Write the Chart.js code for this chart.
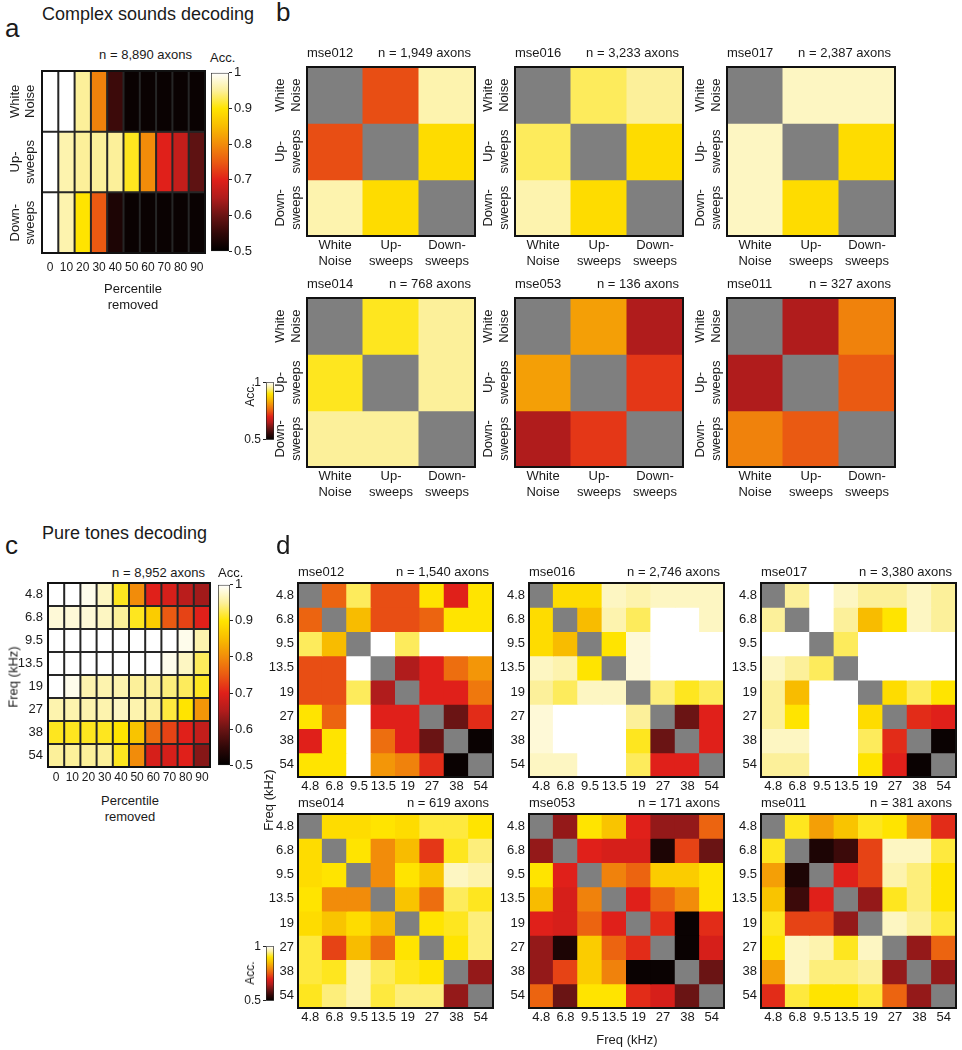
<!DOCTYPE html>
<html>
<head>
<meta charset="utf-8">
<script src="https://cdn.jsdelivr.net/npm/chart.js@4.4.1/dist/chart.umd.min.js"></script>
<style>
  body { margin: 0; background: #fff; }
  #fig { position: relative; width: 962px; height: 1050px; overflow: hidden; font-family: "Liberation Sans", Arial, sans-serif; color: #1a1a1a; }
  #fig canvas { position: absolute; }
  .lbl { position: absolute; white-space: nowrap; line-height: 1; }
</style>
</head>
<body>
<div id="fig"></div>
<script>
// ---- data ----
const soundLabels = [['White', 'Noise'], ['Up-', 'sweeps'], ['Down-', 'sweeps']];
const percentiles = ['0', '10', '20', '30', '40', '50', '60', '70', '80', '90'];
const freqLabels = ['4.8', '6.8', '9.5', '13.5', '19', '27', '38', '54'];
const accTicks = [0.5, 0.6, 0.7, 0.8, 0.9, 1];
const accEnds = [0.5, 1];

// a: rows = sound, cols = percentile removed
const accComplex = [
  [1.0, 1.0, 0.95, 0.79, 0.56, 0.51, 0.51, 0.51, 0.51, 0.51],
  [1.0, 0.96, 0.95, 0.95, 0.95, 0.91, 0.80, 0.70, 0.67, 0.59],
  [1.0, 0.96, 0.90, 0.75, 0.53, 0.51, 0.51, 0.51, 0.51, 0.51]
];

// b: pairwise accuracy per mouse (null = diagonal)
const bMse012 = [[null, 0.74, 0.96], [0.74, null, 0.89], [0.96, 0.89, null]];
const bMse016 = [[null, 0.93, 0.95], [0.93, null, 0.89], [0.96, 0.89, null]];
const bMse017 = [[null, 0.97, 0.97], [0.97, null, 0.89], [0.97, 0.89, null]];
const bMse014 = [[null, 0.91, 0.95], [0.91, null, 0.95], [0.95, 0.95, null]];
const bMse053 = [[null, 0.82, 0.65], [0.82, null, 0.72], [0.65, 0.72, null]];
const bMse011 = [[null, 0.65, 0.79], [0.65, null, 0.75], [0.79, 0.75, null]];
const bCounts = ['n = 1,949 axons', 'n = 3,233 axons', 'n = 2,387 axons', 'n = 768 axons', 'n = 136 axons', 'n = 327 axons'];

// c: rows = frequency, cols = percentile removed
const accTones = [
  [1.0, 1.0, 0.99, 0.97, 0.91, 0.80, 0.70, 0.69, 0.66, 0.64],
  [0.98, 0.98, 0.98, 0.97, 0.95, 0.91, 0.87, 0.75, 0.73, 0.70],
  [1.0, 1.0, 1.0, 1.0, 1.0, 1.0, 1.0, 1.0, 0.99, 0.96],
  [1.0, 1.0, 1.0, 1.0, 1.0, 1.0, 1.0, 0.99, 0.97, 0.93],
  [1.0, 0.99, 0.96, 0.96, 0.96, 0.95, 0.95, 0.94, 0.93, 0.91],
  [0.96, 0.96, 0.96, 0.96, 0.97, 0.96, 0.95, 0.92, 0.90, 0.81],
  [0.91, 0.91, 0.91, 0.91, 0.90, 0.86, 0.77, 0.73, 0.70, 0.67],
  [0.95, 0.95, 0.95, 0.95, 0.91, 0.80, 0.69, 0.69, 0.70, 0.62]
];

// d: pairwise tone accuracy per mouse
const dMse012 = [
  [null, 0.76, 0.93, 0.74, 0.74, 0.90, 0.70, 0.90],
  [0.76, null, 0.85, 0.74, 0.74, 0.76, 0.90, 0.90],
  [0.93, 0.85, null, 1.0, 0.93, 1.0, 1.0, 1.0],
  [0.74, 0.74, 1.0, null, 0.65, 0.70, 0.77, 0.81],
  [0.74, 0.74, 0.93, 0.65, null, 0.70, 0.70, 0.78],
  [0.90, 0.76, 1.0, 0.70, 0.70, null, 0.60, 0.71],
  [0.70, 0.90, 1.0, 0.77, 0.70, 0.60, null, 0.51],
  [0.90, 0.90, 1.0, 0.81, 0.79, 0.71, 0.51, null]
];
const dMse016 = [
  [null, 0.89, 0.89, 0.97, 0.96, 0.97, 0.97, 0.97],
  [0.89, null, 0.85, 0.96, 0.93, 1.0, 1.0, 0.97],
  [0.89, 0.85, null, 0.90, 0.98, 1.0, 1.0, 1.0],
  [0.97, 0.96, 0.90, null, 0.98, 1.0, 1.0, 1.0],
  [0.95, 0.93, 0.97, 0.97, null, 0.94, 0.91, 0.93],
  [0.98, 1.0, 1.0, 1.0, 0.95, null, 0.60, 0.70],
  [0.98, 1.0, 1.0, 1.0, 0.91, 0.60, null, 0.70],
  [0.97, 0.97, 1.0, 1.0, 0.93, 0.70, 0.70, null]
];
const dMse017 = [
  [null, 0.95, 1.0, 0.97, 0.95, 0.95, 0.97, 0.95],
  [0.95, null, 1.0, 0.95, 0.85, 0.90, 0.97, 0.95],
  [1.0, 1.0, null, 0.93, 1.0, 1.0, 1.0, 1.0],
  [0.97, 0.95, 0.93, null, 1.0, 1.0, 1.0, 1.0],
  [0.95, 0.85, 1.0, 1.0, null, 0.89, 0.93, 0.90],
  [0.95, 0.90, 1.0, 1.0, 0.89, null, 0.71, 0.70],
  [0.97, 0.97, 1.0, 1.0, 0.93, 0.71, null, 0.51],
  [0.95, 0.95, 1.0, 1.0, 0.90, 0.70, 0.51, null]
];
const dMse014 = [
  [null, 0.89, 0.89, 0.90, 0.89, 0.92, 0.92, 0.90],
  [0.89, null, 0.90, 0.80, 0.85, 0.72, 0.91, 0.94],
  [0.89, 0.90, null, 0.80, 0.90, 0.86, 0.97, 0.96],
  [0.90, 0.80, 0.80, null, 0.86, 0.77, 0.93, 0.91],
  [0.89, 0.86, 0.89, 0.85, null, 0.90, 0.91, 0.94],
  [0.92, 0.73, 0.85, 0.77, 0.90, null, 0.90, 0.94],
  [0.92, 0.91, 0.96, 0.93, 0.91, 0.90, null, 0.63],
  [0.91, 0.94, 0.96, 0.92, 0.94, 0.94, 0.63, null]
];
const dMse053 = [
  [null, 0.63, 0.90, 0.86, 0.70, 0.63, 0.63, 0.76],
  [0.63, null, 0.70, 0.69, 0.69, 0.53, 0.73, 0.60],
  [0.90, 0.70, null, 0.79, 0.76, 0.87, 0.87, 0.90],
  [0.85, 0.69, 0.79, null, 0.70, 0.76, 0.80, 0.90],
  [0.70, 0.69, 0.76, 0.70, null, 0.71, 0.51, 0.71],
  [0.63, 0.53, 0.87, 0.76, 0.71, null, 0.51, 0.69],
  [0.63, 0.73, 0.87, 0.79, 0.51, 0.51, null, 0.60],
  [0.76, 0.60, 0.90, 0.90, 0.71, 0.69, 0.60, null]
];
const dMse011 = [
  [null, 0.91, 0.82, 0.86, 0.91, 0.90, 0.82, 0.71],
  [0.91, null, 0.53, 0.56, 0.73, 0.97, 0.97, 0.92],
  [0.82, 0.53, null, 0.70, 0.73, 0.96, 0.94, 0.90],
  [0.86, 0.56, 0.70, null, 0.63, 0.91, 0.94, 0.90],
  [0.91, 0.73, 0.73, 0.63, null, 0.97, 0.95, 0.92],
  [0.90, 0.97, 0.96, 0.91, 0.97, null, 0.63, 0.76],
  [0.82, 0.97, 0.94, 0.94, 0.95, 0.63, null, 0.63],
  [0.71, 0.92, 0.90, 0.90, 0.92, 0.76, 0.63, null]
];
const dCounts = ['n = 1,540 axons', 'n = 2,746 axons', 'n = 3,380 axons', 'n = 619 axons', 'n = 171 axons', 'n = 381 axons'];

// ---- colour map (hot-like, 0.5 .. 1) ----
const cmap = [
  [0.50, [0, 0, 0]], [0.55, [48, 8, 8]], [0.60, [106, 20, 20]], [0.65, [176, 28, 28]],
  [0.70, [224, 32, 26]], [0.75, [234, 90, 18]], [0.80, [242, 140, 10]], [0.85, [248, 188, 0]],
  [0.90, [255, 228, 0]], [0.95, [252, 240, 154]], [1.00, [255, 255, 255]]
];
function accColor(v) {
  if (v === null) return '#7f7f7f';
  v = Math.max(0.5, Math.min(1, v));
  for (let i = 1; i < cmap.length; i++) {
    if (v <= cmap[i][0] + 1e-9) {
      const [v0, c0] = cmap[i - 1], [v1, c1] = cmap[i];
      const t = (v - v0) / (v1 - v0);
      const c = c0.map((x, k) => Math.round(x + (c1[k] - x) * t));
      return 'rgb(' + c.join(',') + ')';
    }
  }
  return '#ffffff';
}

Chart.defaults.font.family = '"Liberation Sans", Arial, sans-serif';
Chart.defaults.color = '#1a1a1a';

const FONT = '"Liberation Sans", Arial, sans-serif';
const fig = document.getElementById('fig');

function makeCanvas(left, top, width, height) {
  const c = document.createElement('canvas');
  c.width = width; c.height = height;
  c.style.left = left + 'px'; c.style.top = top + 'px';
  c.style.width = width + 'px'; c.style.height = height + 'px';
  fig.appendChild(c);
  return c.getContext('2d');
}

function label(text, x, y, size, align, rotate) {
  const d = document.createElement('div');
  d.className = 'lbl';
  d.textContent = text;
  d.style.fontSize = size + 'px';
  d.style.left = x + 'px'; d.style.top = y + 'px';
  const tx = align === 'left' ? '0' : align === 'right' ? '-100%' : '-50%';
  d.style.transform = 'translate(' + tx + ',-50%)' + (rotate ? ' rotate(-90deg)' : '');
  fig.appendChild(d);
}

// plugins: cell grid, frame, headings above matrix, rotated row labels
const cellGridPlugin = {
  id: 'cellGrid',
  afterDatasetsDraw(chart, args, opts) {
    if (!opts || !opts.width) return;
    const xs = chart.scales.x, ys = chart.scales.y, a = chart.chartArea, ctx = chart.ctx;
    ctx.save();
    ctx.strokeStyle = opts.color;
    ctx.lineWidth = opts.width;
    ctx.beginPath();
    for (let i = 1; i < chart.data.labels.length; i++) {
      const px = (xs.getPixelForValue(i - 1) + xs.getPixelForValue(i)) / 2;
      ctx.moveTo(px, a.top); ctx.lineTo(px, a.bottom);
    }
    for (let j = 1; j < chart.data.datasets.length; j++) {
      const py = ys.getPixelForValue(j);
      ctx.moveTo(a.left, py); ctx.lineTo(a.right, py);
    }
    ctx.stroke();
    ctx.restore();
  }
};
const framePlugin = {
  id: 'frame',
  afterDatasetsDraw(chart, args, opts) {
    if (!opts || !opts.width) return;
    const a = chart.chartArea, ctx = chart.ctx;
    ctx.save();
    ctx.strokeStyle = '#111';
    ctx.lineWidth = opts.width;
    ctx.strokeRect(a.left, a.top, a.right - a.left, a.bottom - a.top);
    ctx.restore();
  }
};
const headingPlugin = {
  id: 'heading',
  afterDraw(chart, args, opts) {
    if (!opts || !opts.gap) return;
    const a = chart.chartArea, ctx = chart.ctx;
    ctx.save();
    ctx.font = '13px ' + FONT;
    ctx.fillStyle = '#1a1a1a';
    ctx.textBaseline = 'middle';
    ctx.textAlign = 'left';
    if (opts.left) ctx.fillText(opts.left, a.left, a.top - opts.gap);
    ctx.textAlign = 'right';
    if (opts.right) ctx.fillText(opts.right, a.right - 4, a.top - opts.gap);
    ctx.restore();
  }
};
const rowLabelPlugin = {
  id: 'rowLabels',
  afterDraw(chart, args, opts) {
    if (!opts || !opts.labels) return;
    const ctx = chart.ctx, ys = chart.scales.y, left = chart.chartArea.left;
    ctx.save();
    ctx.font = '13px ' + FONT;
    ctx.fillStyle = '#1a1a1a';
    ctx.textAlign = 'center';
    ctx.textBaseline = 'middle';
    opts.labels.forEach((lines, i) => {
      const py = ys.getPixelForValue(i + 0.5);
      lines.forEach((t, j) => {
        ctx.save();
        ctx.translate(left - opts.offsets[j], py);
        ctx.rotate(-Math.PI / 2);
        ctx.fillText(t, 0, 0);
        ctx.restore();
      });
    });
    ctx.restore();
  }
};
Chart.register(cellGridPlugin, framePlugin, headingPlugin, rowLabelPlugin);

function heatmap(area, rows, cols, values, o) {
  const padTop = 24, padRight = 8;
  const ctx = makeCanvas(area.x - o.yw, area.y - padTop, o.yw + area.w + padRight, padTop + area.h + o.xh);
  new Chart(ctx, {
    type: 'bar',
    data: {
      labels: cols,
      datasets: rows.map((r, i) => ({
        label: Array.isArray(r) ? r.join(' ') : r,
        data: cols.map(() => 1),
        backgroundColor: values[i].map(accColor),
        borderWidth: 0,
        inflateAmount: 0.5,
        barPercentage: 1,
        categoryPercentage: 1
      }))
    },
    options: {
      responsive: false,
      animation: false,
      layout: { padding: { top: padTop, right: padRight, left: 0, bottom: 0 } },
      plugins: {
        legend: { display: false },
        tooltip: { enabled: false },
        cellGrid: o.cellGrid ? { width: 2, color: '#262626' } : {},
        frame: { width: o.frame },
        heading: o.heading || {},
        rowLabels: o.rotated ? { labels: rows, offsets: o.rotated } : {}
      },
      scales: {
        x: {
          stacked: true,
          grid: { display: false, drawTicks: false },
          border: { display: false },
          ticks: { font: { size: o.xFont || 13 }, padding: o.xPad, maxRotation: 0, autoSkip: false, color: '#1a1a1a' },
          afterFit: s => { s.height = o.xh; }
        },
        y: {
          stacked: true,
          reverse: true,
          min: 0,
          max: rows.length,
          grid: { display: false, drawTicks: false },
          border: { display: false },
          afterBuildTicks: s => { s.ticks = rows.map((r, i) => ({ value: i + 0.5 })); },
          ticks: {
            display: !o.rotated,
            font: { size: 13 },
            padding: o.yPad || 4,
            color: '#1a1a1a',
            callback: (v, i) => rows[i]
          },
          afterFit: s => { s.width = o.yw; }
        }
      }
    }
  });
}

function colorbar(area, ticks, side, axisW, fontSize) {
  const pad = 8;
  const left = side === 'left' ? area.x - axisW : area.x;
  const ctx = makeCanvas(left, area.y - pad, axisW + area.w + 2, area.h + 2 * pad);
  new Chart(ctx, {
    type: 'bar',
    data: {
      labels: ['Acc.'],
      datasets: [{
        data: [[0.5, 1]],
        backgroundColor: c => {
          const a = c.chart.chartArea;
          if (!a) return '#888';
          const g = c.chart.ctx.createLinearGradient(0, a.bottom, 0, a.top);
          cmap.forEach(([v, col]) => g.addColorStop((v - 0.5) / 0.5, 'rgb(' + col.join(',') + ')'));
          return g;
        },
        borderColor: '#222',
        borderWidth: 1,
        borderSkipped: false,
        barPercentage: 1,
        categoryPercentage: 1
      }]
    },
    options: {
      responsive: false,
      animation: false,
      layout: { padding: { top: pad, bottom: pad, left: 0, right: side === 'left' ? 2 : 0 } },
      plugins: { legend: { display: false }, tooltip: { enabled: false } },
      scales: {
        x: { display: false },
        y: {
          position: side,
          min: 0.5,
          max: 1,
          afterBuildTicks: s => { s.ticks = ticks.map(v => ({ value: v })); },
          grid: { display: true, drawOnChartArea: false, drawTicks: true, tickLength: 3, color: '#222' },
          border: { display: false },
          ticks: { font: { size: fontSize || 13 }, padding: 2, color: '#1a1a1a', callback: v => String(v) },
          afterFit: s => { s.width = axisW; }
        }
      }
    }
  });
}

// ---- panel a ----
label('Complex sounds decoding', 42, 14, 18, 'left');
label('a', 5, 28, 26, 'left');
label('n = 8,890 axons', 192, 54, 13, 'right');
label('Acc.', 210, 57, 13, 'left');
heatmap({ x: 42, y: 71, w: 163, h: 182 }, soundLabels, percentiles, accComplex,
  { yw: 40, xh: 30, xPad: 7, xFont: 12, cellGrid: true, frame: 2, rotated: [27, 12] });
colorbar({ x: 211, y: 71, w: 16, h: 182 }, accTicks, 'right', 30);
label('Percentile', 133, 288, 13, 'center');
label('removed', 133, 304, 13, 'center');

// ---- panel b ----
label('b', 276, 12, 26, 'left');
const bMats = [bMse012, bMse016, bMse017, bMse014, bMse053, bMse011];
const bNames = ['mse012', 'mse016', 'mse017', 'mse014', 'mse053', 'mse011'];
const bX = [307, 515, 727], bY = [67, 298];
bMats.forEach((m, k) => {
  heatmap({ x: bX[k % 3], y: bY[Math.floor(k / 3)], w: 168, h: 169 }, soundLabels, soundLabels, m,
    { yw: 34, xh: 36, xPad: 2, frame: 2, rotated: [27, 11],
      heading: { left: bNames[k], right: bCounts[k], gap: 14 } });
});
colorbar({ x: 266, y: 381, w: 8, h: 60 }, accEnds, 'left', 22, 12);
label('Acc.', 250, 395, 12, 'center', true);

// ---- panel c ----
label('Pure tones decoding', 42, 533, 18, 'left');
label('c', 5, 545, 26, 'left');
label('n = 8,952 axons', 205, 572, 13, 'right');
label('Acc.', 218, 572, 13, 'left');
heatmap({ x: 48, y: 583, w: 162, h: 184 }, freqLabels, percentiles, accTones,
  { yw: 46, xh: 24, xPad: 3, xFont: 12, yPad: 5, cellGrid: true, frame: 2 });
colorbar({ x: 218, y: 583, w: 10, h: 184 }, accTicks, 'right', 30);
label('Freq (kHz)', 13, 677, 13, 'center', true);
label('Percentile', 130, 800, 13, 'center');
label('removed', 130, 816, 13, 'center');

// ---- panel d ----
label('d', 276, 545, 26, 'left');
const dMats = [dMse012, dMse016, dMse017, dMse014, dMse053, dMse011];
const dX = [298, 529, 761], dY = [583, 814];
dMats.forEach((m, k) => {
  heatmap({ x: dX[k % 3], y: dY[Math.floor(k / 3)], w: 195, h: 194 }, freqLabels, freqLabels, m,
    { yw: 36, xh: 22, xPad: 2, yPad: 4, frame: 2,
      heading: { left: bNames[k], right: dCounts[k], gap: 11 } });
});
label('Freq (kHz)', 268, 800, 13, 'center', true);
label('Freq (kHz)', 627, 1039, 13, 'center');
colorbar({ x: 266, y: 945, w: 8, h: 57 }, accEnds, 'left', 22, 12);
label('Acc.', 250, 973, 12, 'center', true);
</script>
</body>
</html>
